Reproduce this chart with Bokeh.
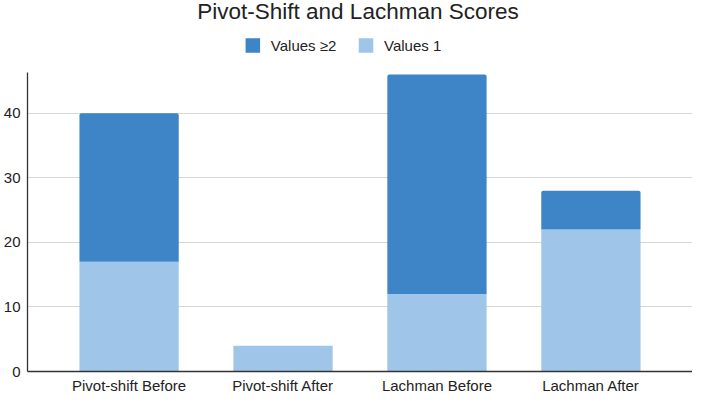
from bokeh.plotting import figure
from bokeh.layouts import column
from bokeh.models import ColumnDataSource, FactorRange, Range1d, FixedTicker
from bokeh.core.properties import value
from bokeh.embed import file_html
from bokeh.resources import INLINE

categories = ["Pivot-shift Before", "Pivot-shift After", "Lachman Before", "Lachman After"]
values_1 = [17, 4, 12, 22]
values_ge2 = [23, 0, 34, 6]
y_ticks = [0, 10, 20, 30, 40]
series_names = ["Values \u22652", "Values 1"]
series_colors = ["#3d85c6", "#9fc5e8"]
title_text = "Pivot-Shift and Lachman Scores"

FONT = "Liberation Sans"
W = 692
HEAD_H = 68
MAIN_H = 396 - HEAD_H
FRAME_LEFT = 28  # the column aligns the header frame with the chart frame

# ---- header: title + legend (pixel-scaled coordinates) ----
head = figure(width=W, height=HEAD_H, x_range=Range1d(FRAME_LEFT, W), y_range=Range1d(0, HEAD_H),
              title=None, x_axis_location=None, y_axis_location=None,
              output_backend="svg", toolbar_location=None, min_border=0,
              min_border_left=0, min_border_right=0, min_border_top=0, min_border_bottom=0)
head.xgrid.visible = False
head.ygrid.visible = False
head.outline_line_color = None
head.text(x=[358], y=[HEAD_H + 2], text=[title_text], text_align="center",
          text_baseline="top", text_font=value(FONT), text_font_size="22.5px",
          text_color="#222222")

legend_src = ColumnDataSource(dict(
    name=series_names, color=series_colors,
    sx=[253, 366], tx=[271, 384], y=[HEAD_H - 45, HEAD_H - 45]))
head.rect(x="sx", y="y", width=14.5, height=14.5, fill_color="color", line_color=None,
          source=legend_src)
head.text(x="tx", y="y", text="name", text_align="left", text_baseline="middle",
          text_font=value(FONT), text_font_size="15px", text_color="#222222", source=legend_src)

# ---- main chart ----
totals = [a + b for a, b in zip(values_1, values_ge2)]
src = ColumnDataSource(dict(cat=categories, v1=values_1, v2=values_ge2, top=totals))

p = figure(
    x_range=FactorRange(*categories, range_padding=0.16, range_padding_units="absolute"),
    y_range=Range1d(0, 46.3),
    width=W, height=MAIN_H, title=None,
    output_backend="svg", toolbar_location=None,
    min_border_left=0, min_border_right=0, min_border_bottom=0, min_border_top=4,
)
p.outline_line_color = None

p.vbar(x="cat", bottom=0, top="v1", width=0.645, source=src,
       fill_color=series_colors[1], line_color=None)
p.vbar(x="cat", bottom="v1", top="top", width=0.645, source=src,
       fill_color=series_colors[0], line_color=None, border_radius=(2, 2, 0, 0))

p.yaxis.ticker = FixedTicker(ticks=y_ticks)
for ax in (p.xaxis[0], p.yaxis[0]):
    ax.axis_label = None
    ax.axis_line_color = "#333333"
    ax.axis_line_width = 1.3
    ax.major_tick_line_color = None
    ax.minor_tick_line_color = None
    ax.major_tick_out = 0
    ax.major_tick_in = 0
    ax.minor_tick_out = 0
    ax.minor_tick_in = 0
    ax.major_label_text_font = FONT
    ax.major_label_text_font_size = "15px"
    ax.major_label_text_color = "#222222"
p.yaxis.major_label_standoff = 7
p.xaxis.major_label_standoff = 5

p.xgrid.grid_line_color = None
p.ygrid.grid_line_color = "#d6d6d6"
p.ygrid.grid_line_width = 1

layout = column(head, p, spacing=0)
open("out.html", "w").write(file_html(layout, INLINE))
